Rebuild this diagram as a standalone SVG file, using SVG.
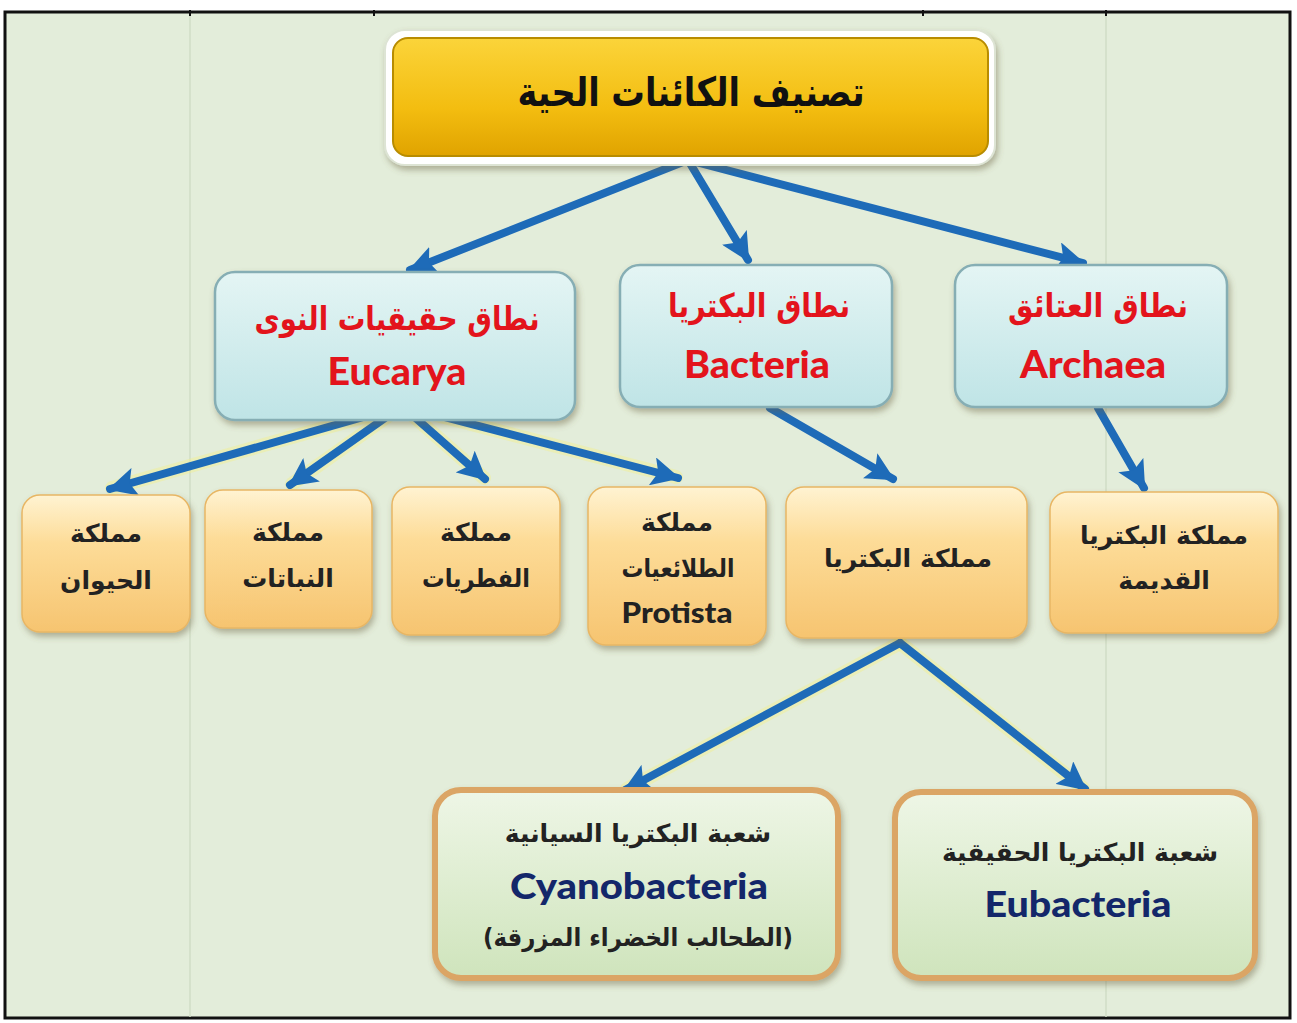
<svg xmlns="http://www.w3.org/2000/svg" width="1297" height="1023" viewBox="0 0 1297 1023">
  <defs>
    <linearGradient id="gGold" x1="0" y1="0" x2="0" y2="1">
      <stop offset="0" stop-color="#fbd43a"/>
      <stop offset="0.6" stop-color="#f3bd10"/>
      <stop offset="1" stop-color="#e0a300"/>
    </linearGradient>
    <linearGradient id="gCyan" x1="0" y1="0" x2="0" y2="1">
      <stop offset="0" stop-color="#e4f5f4"/>
      <stop offset="1" stop-color="#bfe4e6"/>
    </linearGradient>
    <linearGradient id="gOrange" x1="0" y1="0" x2="0" y2="1">
      <stop offset="0" stop-color="#fff3d2"/>
      <stop offset="0.35" stop-color="#fddc98"/>
      <stop offset="1" stop-color="#f6c470"/>
    </linearGradient>
    <linearGradient id="gGreen" x1="0" y1="0" x2="0" y2="1">
      <stop offset="0" stop-color="#eef6e6"/>
      <stop offset="1" stop-color="#cfe4bc"/>
    </linearGradient>
    <filter id="shadow" x="-10%" y="-10%" width="125%" height="130%">
      <feDropShadow dx="2" dy="4" stdDeviation="3" flood-color="#6b6040" flood-opacity="0.45"/>
    </filter>
    <marker id="arrow" viewBox="0 0 12 12" refX="11" refY="6" markerWidth="3.6" markerHeight="3.6" orient="auto" markerUnits="strokeWidth">
      <path d="M0,0 L12,6 L0,12 L2.5,6 Z" fill="#1e6bb8"/>
    </marker>
    <style>
      .ar { font-family: "DejaVu Sans", sans-serif; font-weight: bold; text-anchor: middle; }
      .lat { font-family: "Lato", "Open Sans", sans-serif; font-weight: 900; text-anchor: middle; }
      .red { fill: #e3141c; }
      .dark { fill: #222222; }
      .navy { fill: #13276a; }
      .cyanbox { fill: url(#gCyan); stroke: #86aeb4; stroke-width: 2.5; filter: url(#shadow); }
      .orbox { fill: url(#gOrange); stroke: #e8b664; stroke-width: 1.5; filter: url(#shadow); }
      .grbox { fill: url(#gGreen); stroke: #dba565; stroke-width: 6; filter: url(#shadow); }
      .conn { stroke: #1e6bb8; stroke-width: 8; fill: none; stroke-linecap: round; marker-end: url(#arrow); }
      .glow { stroke: #f2f08c; stroke-width: 14; fill: none; stroke-linecap: round; opacity: 0.45; }
    </style>
  </defs>

  <!-- background and frame -->
  <rect x="0" y="0" width="1297" height="1023" fill="#ffffff"/>
  <rect x="5" y="12" width="1285" height="1006" fill="#e3edda" stroke="#111111" stroke-width="3"/>
  <line x1="190" y1="13" x2="190" y2="1017" stroke="#d0dcc6" stroke-width="1.5"/>
  <line x1="1106" y1="13" x2="1106" y2="1017" stroke="#d0dcc6" stroke-width="1.5"/>
  <g stroke="#111111" stroke-width="2">
    <line x1="190" y1="10" x2="190" y2="16"/>
    <line x1="374" y1="10" x2="374" y2="16"/>
    <line x1="923" y1="10" x2="923" y2="16"/>
    <line x1="1106" y1="10" x2="1106" y2="16"/>
  </g>

  <!-- connectors -->
  <g id="connectors">
    <g class="glows">
      <line class="glow" x1="402" y1="406" x2="112" y2="488"/>
      <line class="glow" x1="402" y1="406" x2="292" y2="484"/>
      <line class="glow" x1="402" y1="406" x2="484" y2="478"/>
      <line class="glow" x1="402" y1="406" x2="676" y2="477"/>
      <line class="glow" x1="900" y1="643" x2="627" y2="789"/>
      <line class="glow" x1="900" y1="643" x2="1083" y2="788"/>
    </g>
    <line class="conn" x1="688" y1="160" x2="410" y2="270"/>
    <line class="conn" x1="688" y1="160" x2="748" y2="260"/>
    <line class="conn" x1="688" y1="160" x2="1083" y2="263"/>
    <line class="conn" x1="402" y1="406" x2="110" y2="489"/>
    <line class="conn" x1="402" y1="406" x2="290" y2="485"/>
    <line class="conn" x1="402" y1="406" x2="485" y2="479"/>
    <line class="conn" x1="402" y1="406" x2="678" y2="478"/>
    <line class="conn" x1="770" y1="408" x2="893" y2="479"/>
    <line class="conn" x1="1098" y1="408" x2="1144" y2="488"/>
    <line class="conn" x1="900" y1="643" x2="625" y2="790"/>
    <line class="conn" x1="900" y1="643" x2="1085" y2="789"/>
  </g>

  <!-- title -->
  <g id="node-title">
    <rect x="385" y="30" width="610" height="135" rx="20" fill="#ffffff" stroke="#dde4d4" stroke-width="2" filter="url(#shadow)"/>
    <rect x="393" y="38" width="595" height="118" rx="15" fill="url(#gGold)" stroke="#b88c00" stroke-width="2"/>
    <text class="ar" x="691" y="106" font-size="40" fill="#111111" textLength="347" lengthAdjust="spacingAndGlyphs">تصنيف الكائنات الحية</text>
  </g>

  <!-- domains -->
  <g id="node-eucarya">
    <rect class="cyanbox" x="215" y="272" width="360" height="148" rx="20"/>
    <text class="ar red" x="397" y="330" font-size="33" textLength="285" lengthAdjust="spacingAndGlyphs">نطاق حقيقيات النوى</text>
    <text class="lat red" x="397" y="385" font-size="37" textLength="139" lengthAdjust="spacingAndGlyphs">Eucarya</text>
  </g>
  <g id="node-bacteria-domain">
    <rect class="cyanbox" x="620" y="265" width="272" height="142" rx="20"/>
    <text class="ar red" x="759" y="317" font-size="33" textLength="182" lengthAdjust="spacingAndGlyphs">نطاق البكتريا</text>
    <text class="lat red" x="757" y="378" font-size="37" textLength="146" lengthAdjust="spacingAndGlyphs">Bacteria</text>
  </g>
  <g id="node-archaea">
    <rect class="cyanbox" x="955" y="265" width="272" height="142" rx="20"/>
    <text class="ar red" x="1098" y="317" font-size="33" textLength="180" lengthAdjust="spacingAndGlyphs">نطاق العتائق</text>
    <text class="lat red" x="1093" y="378" font-size="37" textLength="146" lengthAdjust="spacingAndGlyphs">Archaea</text>
  </g>

  <!-- kingdoms -->
  <g id="node-animals">
    <rect class="orbox" x="22" y="495" width="168" height="137" rx="18"/>
    <text class="ar dark" x="106" y="542" font-size="25">مملكة</text>
    <text class="ar dark" x="106" y="589" font-size="25">الحيوان</text>
  </g>
  <g id="node-plants">
    <rect class="orbox" x="205" y="490" width="167" height="138" rx="18"/>
    <text class="ar dark" x="288" y="541" font-size="25">مملكة</text>
    <text class="ar dark" x="288" y="587" font-size="25">النباتات</text>
  </g>
  <g id="node-fungi">
    <rect class="orbox" x="392" y="487" width="168" height="148" rx="18"/>
    <text class="ar dark" x="476" y="541" font-size="25">مملكة</text>
    <text class="ar dark" x="476" y="587" font-size="25" textLength="108" lengthAdjust="spacingAndGlyphs">الفطريات</text>
  </g>
  <g id="node-protista">
    <rect class="orbox" x="588" y="487" width="178" height="158" rx="18"/>
    <text class="ar dark" x="677" y="531" font-size="25">مملكة</text>
    <text class="ar dark" x="678" y="577" font-size="25" textLength="113" lengthAdjust="spacingAndGlyphs">الطلائعيات</text>
    <text class="lat dark" x="677" y="623" font-size="28" textLength="111" lengthAdjust="spacingAndGlyphs">Protista</text>
  </g>
  <g id="node-bacteria-kingdom">
    <rect class="orbox" x="786" y="487" width="241" height="151" rx="18"/>
    <text class="ar dark" x="908" y="567" font-size="25">مملكة البكتريا</text>
  </g>
  <g id="node-archaea-kingdom">
    <rect class="orbox" x="1050" y="492" width="228" height="141" rx="18"/>
    <text class="ar dark" x="1164" y="544" font-size="25">مملكة البكتريا</text>
    <text class="ar dark" x="1164" y="589" font-size="25">القديمة</text>
  </g>

  <!-- phyla -->
  <g id="node-cyanobacteria">
    <rect class="grbox" x="435" y="790" width="403" height="188" rx="26"/>
    <text class="ar dark" x="638" y="842" font-size="25">شعبة البكتريا السيانية</text>
    <text class="lat navy" x="639" y="899" font-size="36" textLength="258" lengthAdjust="spacingAndGlyphs">Cyanobacteria</text>
    <text class="ar dark" x="638" y="946" font-size="25" textLength="310" lengthAdjust="spacingAndGlyphs">(الطحالب الخضراء المزرقة)</text>
  </g>
  <g id="node-eubacteria">
    <rect class="grbox" x="895" y="792" width="360" height="186" rx="26"/>
    <text class="ar dark" x="1080" y="861" font-size="25">شعبة البكتريا الحقيقية</text>
    <text class="lat navy" x="1078" y="917" font-size="36" textLength="187" lengthAdjust="spacingAndGlyphs">Eubacteria</text>
  </g>
</svg>
